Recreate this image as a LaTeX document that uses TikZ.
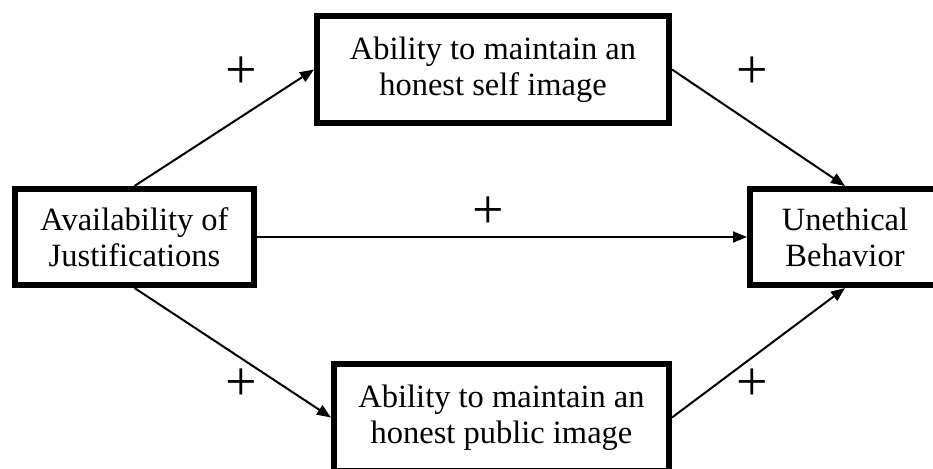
\documentclass[tikz,border=0pt]{standalone}
\usepackage{fontspec}
\setmainfont{Liberation Serif}
\usetikzlibrary{arrows.meta}
\tikzset{
  box/.style={draw=black, line width=6pt, rectangle, align=center, inner sep=0pt,
    font=\fontsize{32.5}{36}\selectfont},
  conn/.style={line width=2pt, -{Triangle[length=14pt,width=11pt]}},
  plus/.style={inner sep=0pt, font=\fontsize{56}{56}\selectfont}
}
\begin{document}
\begin{tikzpicture}[x=1pt,y=-1pt]
\useasboundingbox (0,0) rectangle (933,468);
\clip (0,0) rectangle (933,468);
\node[box, minimum width=239pt, minimum height=96pt] (avail) at (134.5,237) {Availability of\\Justifications};
\node[box, minimum width=352pt, minimum height=107pt] (self) at (493,69.5) {Ability to maintain an\\honest self image};
\node[box, minimum width=190pt, minimum height=96pt] (unethical) at (845,237) {Unethical\\Behavior};
\node[box, minimum width=335pt, minimum height=107pt] (public) at (501.5,417.5) {Ability to maintain an\\honest public image};
\draw[conn] (avail.north) -- (self.west);
\draw[conn] (self.east) -- (unethical.north);
\draw[conn] (avail.east) -- (unethical.west);
\draw[conn] (avail.south) -- (public.west);
\draw[conn] (public.east) -- (unethical.south);
\node[plus] (p1) at (241,73) {+};
\node[plus] (p2) at (752,73) {+};
\node[plus] (p3) at (488,213) {+};
\node[plus] (p4) at (241,385) {+};
\node[plus] (p5) at (752,385) {+};
\end{tikzpicture}
\end{document}
